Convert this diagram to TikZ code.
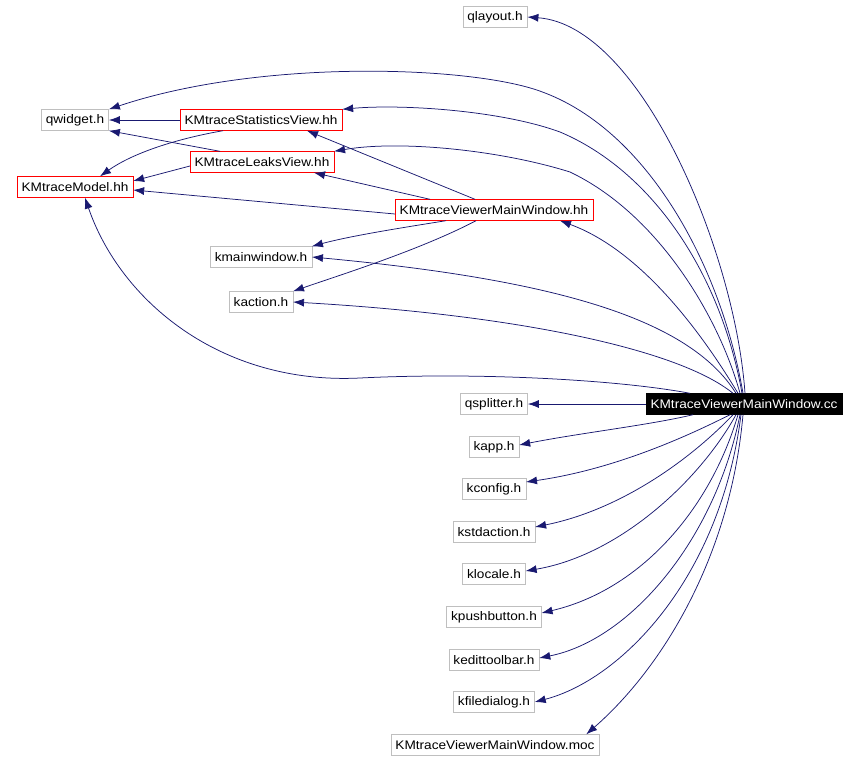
\documentclass[tikz,border=0pt]{standalone}
\usepackage{fontspec}
\setmainfont{Liberation Sans}[FakeStretch=1.1]
\usetikzlibrary{arrows.meta}
\definecolor{edgeblue}{HTML}{191970}
\definecolor{boxgray}{HTML}{BFBFBF}

\begin{document}
\begin{tikzpicture}[x=1pt, y=-1pt, file/.style={draw=boxgray, font=\fontsize{12.4}{14}\selectfont, minimum height=21pt, inner xsep=4.5pt, inner ysep=0pt}, own/.style={file, draw=red}, root/.style={file, draw=black, fill=black, text=white}, dep/.style={-{Latex[length=11pt, width=8pt]}, edgeblue, line width=0.75pt}]
\useasboundingbox (0,0) rectangle (860,761);

\node[file] (qlayout) at (495,17) {qlayout.h}; \node[file] (qwidget) at (75,120) {qwidget.h};
\node[own] (stats) at (261,120) {KMtraceStatisticsView.hh}; \node[own] (leaks) at (262,162) {KMtraceLeaksView.hh};
\node[own] (model) at (75,187) {KMtraceModel.hh}; \node[own] (mainhh) at (494,210) {KMtraceViewerMainWindow.hh};
\node[file] (kmainwindow) at (261,257) {kmainwindow.h}; \node[file] (kaction) at (261,302) {kaction.h};
\node[root] (maincc) at (744,404) {KMtraceViewerMainWindow.cc};
\node[file] (qsplitter) at (494,404) {qsplitter.h}; \node[file] (kapp) at (494,447) {kapp.h};
\node[file] (kconfig) at (494,489) {kconfig.h}; \node[file] (kstdaction) at (494,532) {kstdaction.h};
\node[file] (klocale) at (494,574) {klocale.h}; \node[file] (kpushbutton) at (494,617) {kpushbutton.h};
\node[file] (kedittoolbar) at (494,660) {kedittoolbar.h}; \node[file] (kfiledialog) at (494,702) {kfiledialog.h};
\node[file] (moc) at (495,745) {KMtraceViewerMainWindow.moc};

% from the .cc file, upper fan
\draw[dep] ([xshift=1pt]maincc.north) .. controls (735,250) and (640,25) .. (qlayout.east);
\draw[dep] ([xshift=-1pt]maincc.north) .. controls (720,260) and (640,115) .. (523,86) .. controls (440,65) and (250,62) .. (qwidget.north east);
\draw[dep] ([xshift=-2pt]maincc.north) .. controls (720,270) and (650,170) .. (560,132) .. controls (500,110) and (400,104) .. (stats.north east);
\draw[dep] ([xshift=-4pt]maincc.north) .. controls (720,320) and (660,215) .. (570,172) .. controls (500,150) and (400,140) .. (leaks.north east);
\draw[dep] ([xshift=-6pt]maincc.north) .. controls (700,330) and (640,250) .. ([xshift=66pt]mainhh.south);
\draw[dep] ([xshift=-8pt]maincc.north) .. controls (690,320) and (560,280) .. (kmainwindow.east);
\draw[dep] ([xshift=-11pt]maincc.north) .. controls (680,350) and (520,315) .. (kaction.east);
\draw[dep] ([xshift=-54pt]maincc.north) .. controls (620,380) and (480,372) .. (360,378) .. controls (220,385) and (120,300) .. ([xshift=10pt]model.south);
\draw[dep] (maincc.west) -- (qsplitter.east);

% from the .cc file, lower fan
\draw[dep] ([xshift=-51pt]maincc.south) .. controls (650,425) and (580,433) .. ([yshift=2pt]kapp.east);
\draw[dep] ([xshift=-14pt]maincc.south) .. controls (680,440) and (610,470) .. ([yshift=7pt]kconfig.east);
\draw[dep] ([xshift=-11pt]maincc.south) .. controls (690,460) and (620,510) .. ([yshift=5pt]kstdaction.east);
\draw[dep] ([xshift=-8pt]maincc.south) .. controls (700,480) and (620,555) .. ([yshift=3pt]klocale.east);
\draw[dep] ([xshift=-6pt]maincc.south) .. controls (710,510) and (640,590) .. ([yshift=4pt]kpushbutton.east);
\draw[dep] ([xshift=-4pt]maincc.south) .. controls (715,540) and (630,640) .. ([yshift=2pt]kedittoolbar.east);
\draw[dep] ([xshift=-3pt]maincc.south) .. controls (720,580) and (620,680) .. (kfiledialog.east);
\draw[dep] ([xshift=-1pt]maincc.south) .. controls (730,560) and (660,670) .. ([xshift=-13pt]moc.north east);

% from the .hh file
\draw[dep] ([xshift=-19pt]mainhh.north) -- ([xshift=46pt]stats.south);
\draw[dep] ([xshift=-64pt]mainhh.north) -- ([xshift=52pt]leaks.south);
\draw[dep] ([yshift=-4pt]mainhh.west) -- ([yshift=-3pt]model.east);
\draw[dep] ([xshift=-48pt]mainhh.south) .. controls (400,228) and (350,236) .. (kmainwindow.north east);
\draw[dep] ([xshift=-18pt]mainhh.south) .. controls (420,250) and (340,275) .. (kaction.north east);

\draw[dep] (stats.west) -- (qwidget.east);
\draw[dep] ([xshift=-38pt]stats.south) .. controls (170,140) and (130,155) .. ([xshift=25pt]model.north);
\draw[dep] ([xshift=-42pt]leaks.north) -- (qwidget.south east);
\draw[dep] ([yshift=-4pt]leaks.west) -- ([yshift=6pt]model.east);
\end{tikzpicture}
\end{document}
